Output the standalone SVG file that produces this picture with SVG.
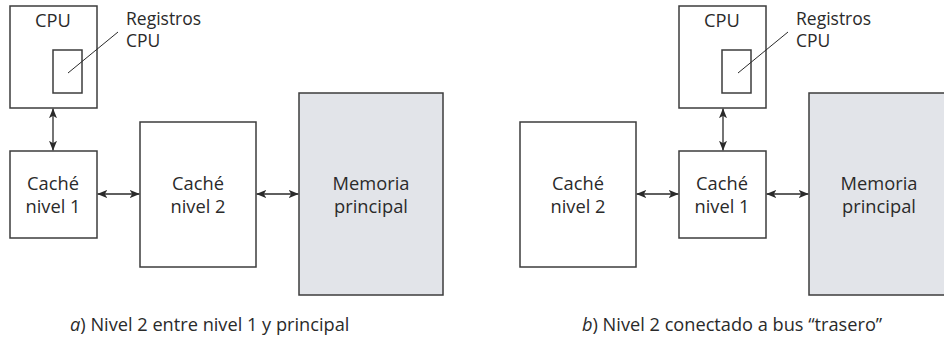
<svg xmlns="http://www.w3.org/2000/svg" width="944" height="338" viewBox="0 0 944 338">
<style>
.box{fill:#fff;stroke:#3c3c3c;stroke-width:1.5}
.mem{fill:#e2e4e9;stroke:#3c3c3c;stroke-width:1.5}
.t{font-family:"Open Sans","Liberation Sans",sans-serif;font-size:18.3px;fill:#2a2a2a;text-anchor:middle}
.tl{font-family:"Open Sans","Liberation Sans",sans-serif;font-size:17.5px;fill:#2a2a2a}
.cap{font-family:"Open Sans","Liberation Sans",sans-serif;font-size:18.2px;fill:#2a2a2a}
.c{stroke:#2a2a2a;stroke-width:1.3;fill:none}
.lead{stroke:#2a2a2a;stroke-width:1;fill:none}
</style>
<defs>
<marker id="ah" viewBox="0 0 10 8" refX="9.5" refY="4" markerWidth="10" markerHeight="8" markerUnits="userSpaceOnUse" orient="auto-start-reverse">
<path d="M0,0 L10,4 L0,8 L2.5,4 z" fill="#2a2a2a"/>
</marker>
</defs>

<!-- Panel a -->
<g id="a-cpu">
<rect class="box" x="10" y="6" width="87" height="102"/>
<text class="t" x="53" y="27">CPU</text>
<rect class="box" x="53" y="50" width="29" height="43"/>
</g>
<g id="a-registros">
<text class="tl" x="126" y="25">Registros</text>
<text class="tl" x="126" y="47">CPU</text>
</g>
<g id="a-cache1">
<rect class="box" x="10" y="151" width="87" height="87"/>
<text class="t" x="53" y="190">Caché</text>
<text class="t" x="53" y="213">nivel 1</text>
</g>
<g id="a-cache2">
<rect class="box" x="140" y="122" width="116" height="145"/>
<text class="t" x="198" y="190">Caché</text>
<text class="t" x="198" y="213">nivel 2</text>
</g>
<g id="a-mem">
<rect class="mem" x="299" y="93" width="144" height="202"/>
<text class="t" x="371" y="190">Memoria</text>
<text class="t" x="371" y="213">principal</text>
</g>

<!-- Panel b -->
<g id="b-cpu">
<rect class="box" x="679" y="6" width="87" height="102"/>
<text class="t" x="722" y="27">CPU</text>
<rect class="box" x="722" y="50" width="29" height="43"/>
</g>
<g id="b-registros">
<text class="tl" x="796" y="25">Registros</text>
<text class="tl" x="796" y="47">CPU</text>
</g>
<g id="b-cache2">
<rect class="box" x="520" y="122" width="116" height="145"/>
<text class="t" x="578" y="190">Caché</text>
<text class="t" x="578" y="213">nivel 2</text>
</g>
<g id="b-cache1">
<rect class="box" x="679" y="151" width="87" height="87"/>
<text class="t" x="722" y="190">Caché</text>
<text class="t" x="722" y="213">nivel 1</text>
</g>
<g id="b-mem">
<rect class="mem" x="809" y="93" width="144" height="202"/>
<text class="t" x="879" y="190">Memoria</text>
<text class="t" x="879" y="213">principal</text>
</g>

<g id="connectors">
<line class="lead" x1="118" y1="32" x2="68" y2="73"/>
<line class="c" x1="53" y1="108.75" x2="53" y2="150.25" marker-start="url(#ah)" marker-end="url(#ah)"/>
<line class="c" x1="97.75" y1="194" x2="139.25" y2="194" marker-start="url(#ah)" marker-end="url(#ah)"/>
<line class="c" x1="256.75" y1="194" x2="298.25" y2="194" marker-start="url(#ah)" marker-end="url(#ah)"/>
<line class="lead" x1="788" y1="32" x2="738" y2="73"/>
<line class="c" x1="723" y1="108.75" x2="723" y2="150.25" marker-start="url(#ah)" marker-end="url(#ah)"/>
<line class="c" x1="636.75" y1="194" x2="678.25" y2="194" marker-start="url(#ah)" marker-end="url(#ah)"/>
<line class="c" x1="766.75" y1="194" x2="808.25" y2="194" marker-start="url(#ah)" marker-end="url(#ah)"/>
</g>

<g id="captions">
<text class="cap" x="70" y="331"><tspan font-style="italic">a</tspan>) Nivel 2 entre nivel 1 y principal</text>
<text class="cap" x="582" y="331"><tspan font-style="italic">b</tspan>) Nivel 2 conectado a bus “trasero”</text>
</g>
</svg>
